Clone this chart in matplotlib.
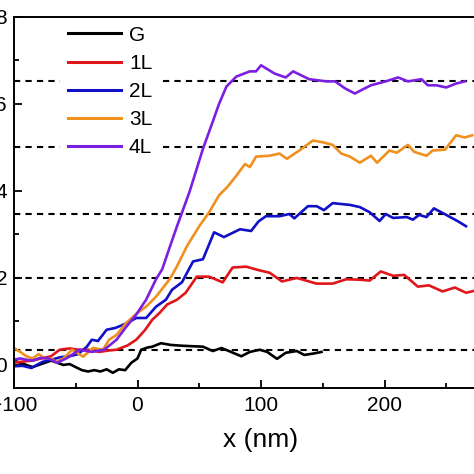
import matplotlib.pyplot as plt

plt.rcParams['font.family'] = ['Liberation Sans', 'DejaVu Sans']

# height profiles (nm)
g_x = [-100, -95, -90, -85, -80, -75, -70, -65, -60, -55, -50, -45, -40, -35, -30, -25, -20, -15, -10,
       -5, 0, 3, 8, 12, 19, 27, 37, 45, 53, 61, 68, 74, 84, 91, 99, 105, 113, 120, 129, 135, 142, 149]
g_y = [0.1, 0.05, 0.0, -0.05, 0.0, 0.05, 0.1, 0.05, 0.0, 0.02, -0.05, -0.12, -0.15, -0.12, -0.15, -0.1,
       -0.18, -0.1, -0.12, 0.05, 0.15, 0.35, 0.4, 0.42, 0.5, 0.46, 0.44, 0.43, 0.42, 0.32, 0.39, 0.32,
       0.2, 0.3, 0.35, 0.3, 0.14, 0.28, 0.32, 0.23, 0.26, 0.3]

l1_x = [-100, -92, -85, -78, -70, -63, -55, -48, -40, -31, -24, -17, -8, -1, 6, 12, 18, 24, 32, 39,
        48, 58, 69, 77, 88, 98, 107, 117, 129, 145, 158, 169, 180, 188, 197, 207, 216, 227, 236,
        247, 257, 266, 272]
l1_y = [0.05, 0.08, 0.1, 0.15, 0.2, 0.35, 0.38, 0.35, 0.35, 0.3, 0.33, 0.35, 0.45, 0.58, 0.8, 1.04,
        1.2, 1.39, 1.5, 1.66, 2.03, 2.03, 1.9, 2.24, 2.26, 2.18, 2.12, 1.92, 2.0, 1.87, 1.87, 1.97,
        1.96, 1.94, 2.15, 2.05, 2.07, 1.8, 1.83, 1.69, 1.78, 1.66, 1.7]

l2_x = [-100, -93, -86, -77, -70, -62, -55, -48, -41, -37, -32, -25, -18, -12, -6, -1, 7, 15, 23, 28,
        36, 45, 53, 62, 70, 83, 92, 98, 104, 115, 123, 127, 138, 145, 151, 158, 172, 180, 188, 196,
        201, 207, 218, 223, 228, 234, 240, 250, 259, 266]
l2_y = [-0.03, -0.02, -0.07, 0.07, 0.12, 0.18, 0.2, 0.25, 0.42, 0.58, 0.55, 0.81, 0.85, 0.92, 1.0,
        1.08, 1.08, 1.34, 1.5, 1.73, 1.9, 2.38, 2.43, 3.05, 2.94, 3.12, 3.08, 3.3, 3.42, 3.42, 3.47,
        3.37, 3.65, 3.65, 3.56, 3.72, 3.68, 3.63, 3.51, 3.31, 3.47, 3.38, 3.4, 3.34, 3.45, 3.4, 3.6,
        3.45, 3.31, 3.19]

l3_x = [-100, -95, -90, -85, -80, -75, -70, -66, -60, -53, -44, -36, -28, -23, -17, -9, 0, 7, 15, 20,
        26, 32, 40, 50, 58, 66, 73, 80, 87, 91, 96, 107, 115, 121, 131, 142, 150, 158, 165, 172,
        180, 189, 194, 204, 210, 219, 224, 234, 239, 249, 258, 265, 271]
l3_y = [0.39, 0.3, 0.2, 0.15, 0.25, 0.15, 0.15, 0.07, 0.15, 0.35, 0.19, 0.39, 0.35, 0.58, 0.69, 0.97,
        1.2, 1.34, 1.57, 1.75, 1.97, 2.27, 2.73, 3.19, 3.51, 3.9, 4.1, 4.35, 4.62, 4.55, 4.79, 4.81,
        4.86, 4.74, 4.93, 5.16, 5.12, 5.06, 4.86, 4.79, 4.65, 4.81, 4.65, 4.93, 4.88, 5.06, 4.9,
        4.81, 4.93, 4.95, 5.28, 5.23, 5.28]

l4_x = [-100, -95, -90, -85, -79, -72, -65, -57, -47, -37, -27, -17, -9, -1, 7, 15, 20, 26, 32, 42,
        53, 61, 66, 72, 80, 91, 96, 100, 111, 120, 126, 139, 153, 160, 168, 176, 182, 189, 201, 211,
        219, 230, 235, 242, 250, 258, 265]
l4_y = [0.12, 0.15, 0.12, 0.1, 0.16, 0.15, 0.05, 0.16, 0.35, 0.3, 0.35, 0.58, 0.88, 1.16, 1.5, 1.97,
        2.2, 2.7, 3.19, 3.97, 4.97, 5.6, 6.0, 6.4, 6.63, 6.75, 6.75, 6.89, 6.7, 6.61, 6.75, 6.57,
        6.52, 6.52, 6.36, 6.24, 6.33, 6.43, 6.52, 6.61, 6.52, 6.57, 6.43, 6.43, 6.38, 6.47, 6.52]

levels = [0.35, 2.0, 3.47, 5.02, 6.52]

series = [(g_x, g_y, 'G', 'black'),
          (l1_x, l1_y, '1L', '#e0161b'),
          (l2_x, l2_y, '2L', '#1010c8'),
          (l3_x, l3_y, '3L', '#f0901e'),
          (l4_x, l4_y, '4L', '#7b1fe0')]

fig = plt.figure(figsize=(4.74, 4.74), dpi=100)
ax = fig.add_axes([14 / 474, 86 / 474, 494 / 474, 371 / 474])

for lv in levels:
    ax.axhline(lv, color='black', lw=1.5, linestyle=(0, (3, 2.5)), zorder=1)

for x, y, lab, c in series:
    ax.plot(x, y, color=c, lw=1.9, label=lab, zorder=2)

ax.set_xlim(-100, 300)
ax.set_ylim(-0.53, 8)
ax.set_xticks([-100, 0, 100, 200, 300])
ax.set_xticks([-50, 50, 150, 250], minor=True)
ax.set_yticks([0, 2, 4, 6, 8])
ax.set_yticks([1, 3, 5, 7], minor=True)
ax.tick_params(which='both', direction='in', width=1.3, labelsize=15)
ax.tick_params(which='major', length=6)
ax.tick_params(which='minor', length=3.5)
ax.tick_params(axis='x', pad=6)
ax.tick_params(axis='y', pad=5)
for s in ax.spines.values():
    s.set_linewidth(1.4)

ax.set_xlabel('x (nm)', fontsize=19, labelpad=9)

leg = ax.legend(loc='upper left', bbox_to_anchor=(0.085, 1.01), fontsize=15, frameon=True,
                edgecolor='none', facecolor='white', framealpha=1, handlelength=2.5,
                handletextpad=0.4, labelspacing=0.44, borderaxespad=0.2, fancybox=False)
leg.set_zorder(2.2)  # keep the top spine visible over the white legend box
for h in leg.get_lines():
    h.set_linewidth(2.2)

plt.savefig('out.png', dpi=100)
